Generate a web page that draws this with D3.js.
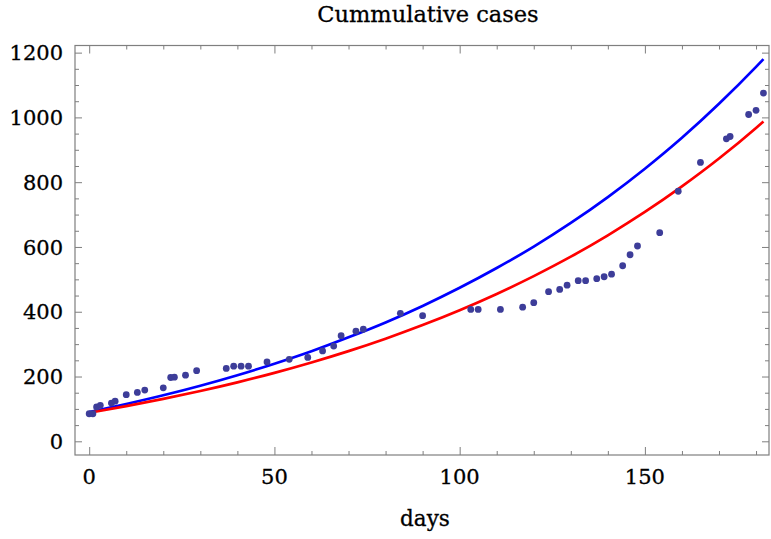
<!DOCTYPE html>
<html>
<head>
<meta charset="utf-8">
<script src="https://cdn.jsdelivr.net/npm/d3@7"></script>
<style>
  html, body { margin: 0; padding: 0; background: #fff; }
  svg { display: block; }
</style>
</head>
<body>
<svg id="chart" width="771" height="539"></svg>
<script>
// ---- data ----
const title = "Cummulative cases";
const xLabel = "days";

// observed cumulative cases (points)
const obsDays  = [0, 1, 2, 3, 6, 7, 10, 13, 15, 20, 22, 23, 26, 29, 37, 39, 41, 43, 48, 54, 59, 63, 66, 68, 72, 74, 84, 90, 103, 105, 111, 117, 120, 124, 127, 129, 132, 134, 137, 139, 141, 144, 146, 148, 154, 159, 165, 172, 173, 178, 180, 182];
const obsCases = [85, 85, 106, 111, 118, 124, 144, 151, 158, 165, 197, 198, 204, 218, 225, 232, 232, 232, 245, 253, 259, 279, 294, 326, 340, 346, 395, 388, 407, 407, 407, 414, 428, 462, 469, 482, 496, 496, 502, 508, 516, 542, 576, 603, 644, 772, 861, 934, 941, 1009, 1022, 1075];

// model curves
const curveDays = [0, 10, 20, 30, 40, 50, 60, 70, 80, 90, 100, 110, 120, 130, 140, 150, 160, 170, 180, 182];
const blueCurve = [90, 115, 142, 171.5, 204, 239.5, 278, 321, 367, 418, 474, 535, 601, 674, 754, 841.5, 937, 1042, 1156, 1180];
const redCurve  = [88, 108.4, 130.8, 155.3, 182, 211.3, 243.4, 278.4, 316.8, 358.8, 404.7, 455, 510, 570, 636, 708, 787, 873, 967.5, 987.5];

const xMajorTicks = [0, 50, 100, 150];
const yMajorTicks = [0, 200, 400, 600, 800, 1000, 1200];

// ---- layout ----
const svg = d3.select("#chart");
const frame = { left: 75, right: 769, top: 45.5, bottom: 455 };

const x = d3.scaleLinear().domain([-3.83, 183.5]).range([frame.left, frame.right]);
const y = d3.scaleLinear().domain([-42.3, 1222]).range([frame.bottom, frame.top]);

const fontFamily = "'DejaVu Serif', 'Liberation Serif', serif";
const frameColor = "#7f7f7f";

// clip
svg.append("defs").append("clipPath").attr("id", "clip")
  .append("rect")
  .attr("x", frame.left).attr("y", frame.top)
  .attr("width", frame.right - frame.left).attr("height", frame.bottom - frame.top);

// frame
svg.append("rect")
  .attr("x", frame.left).attr("y", frame.top)
  .attr("width", frame.right - frame.left).attr("height", frame.bottom - frame.top)
  .attr("fill", "none").attr("stroke", frameColor).attr("stroke-width", 1.2);

// ticks (inward, Mathematica frame style)
const xMinor = d3.range(0, 181, 10).filter(d => !xMajorTicks.includes(d));
const yMinor = d3.range(0, 1201, 50).filter(d => !yMajorTicks.includes(d));

function xTickG(pos, ticks, len, dir) {
  const ax = dir > 0 ? d3.axisBottom(x) : d3.axisTop(x);
  const g = svg.append("g").attr("transform", `translate(0,${pos})`)
    .call(ax.tickValues(ticks).tickSize(-len).tickFormat(""));
  g.select(".domain").remove();
  g.selectAll("line").attr("stroke", frameColor).attr("stroke-width", 1);
  return g;
}
function yTickG(pos, ticks, len, side) {
  const ax = side === "left" ? d3.axisLeft(y) : d3.axisRight(y);
  const g = svg.append("g").attr("transform", `translate(${pos},0)`)
    .call(ax.tickValues(ticks).tickSize(-len).tickFormat(""));
  g.select(".domain").remove();
  g.selectAll("line").attr("stroke", frameColor).attr("stroke-width", 1);
  return g;
}
// bottom / top
xTickG(frame.bottom, xMajorTicks, 8, 1);
xTickG(frame.bottom, xMinor, 4, 1);
xTickG(frame.top, xMajorTicks, 8, -1);
xTickG(frame.top, xMinor, 4, -1);
// left / right
yTickG(frame.left, yMajorTicks, 7, "left");
yTickG(frame.left, yMinor, 4, "left");
yTickG(frame.right, yMajorTicks, 7, "right");
yTickG(frame.right, yMinor, 4, "right");

function styleText(sel, size) {
  return sel.attr("font-family", fontFamily).attr("font-size", size)
    .attr("fill", "#000").attr("stroke", "#000").attr("stroke-width", 0.3);
}

// tick labels
styleText(svg.append("g").selectAll("text").data(xMajorTicks).join("text")
  .attr("x", d => x(d)).attr("y", 484)
  .attr("text-anchor", "middle"), 21)
  .text(d => d);

styleText(svg.append("g").selectAll("text").data(yMajorTicks).join("text")
  .attr("x", 63).attr("y", d => y(d))
  .attr("dy", "0.36em")
  .attr("text-anchor", "end"), 21)
  .text(d => d);

// title and axis label
styleText(svg.append("text")
  .attr("x", 428).attr("y", 22)
  .attr("text-anchor", "middle"), 22.5)
  .text(title);

styleText(svg.append("text")
  .attr("x", 425).attr("y", 526)
  .attr("text-anchor", "middle"), 21.5)
  .text(xLabel);

// plot content
const plot = svg.append("g").attr("clip-path", "url(#clip)");

const line = d3.line()
  .x((d, i) => x(curveDays[i]))
  .y(d => y(d))
  .curve(d3.curveMonotoneX);

plot.append("path").datum(blueCurve)
  .attr("d", line).attr("fill", "none")
  .attr("stroke", "#0000ff").attr("stroke-width", 2.7);

plot.append("path").datum(redCurve)
  .attr("d", line).attr("fill", "none")
  .attr("stroke", "#ff0000").attr("stroke-width", 2.7);

plot.append("g").selectAll("circle").data(obsCases).join("circle")
  .attr("cx", (d, i) => x(obsDays[i]))
  .attr("cy", d => y(d))
  .attr("r", 3.4)
  .attr("fill", "#3d3d99");
</script>
</body>
</html>
